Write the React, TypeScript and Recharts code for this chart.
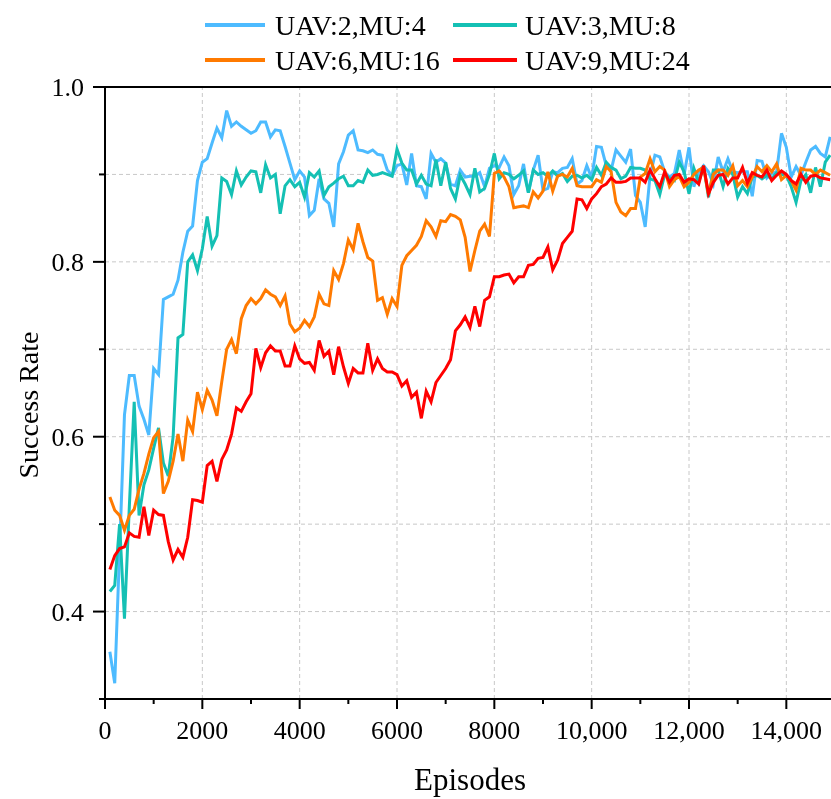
import React from 'react';
import { LineChart, Line, XAxis, YAxis, CartesianGrid, ReferenceLine, Legend, Label } from 'recharts';

// Episodes: one point every 100 episodes
const episodes: number[] = Array.from({ length: 149 }, (_, i) => (i + 1) * 100);

const uav2mu4: number[] = [
  0.354, 0.318, 0.47, 0.625, 0.67, 0.67, 0.635, 0.62, 0.602, 0.678,
  0.671, 0.757, 0.76, 0.763, 0.779, 0.811, 0.835, 0.841, 0.893, 0.914,
  0.918, 0.936, 0.953, 0.942, 0.973, 0.955, 0.96, 0.955, 0.951, 0.947,
  0.95, 0.96, 0.96, 0.943, 0.951, 0.95, 0.932, 0.913, 0.894, 0.904,
  0.897, 0.853, 0.859, 0.895, 0.872, 0.867, 0.84, 0.912, 0.926, 0.945,
  0.95, 0.928, 0.927, 0.925, 0.928, 0.923, 0.922, 0.905, 0.899, 0.91,
  0.912, 0.888, 0.924, 0.887, 0.886, 0.872, 0.924, 0.914, 0.918, 0.913,
  0.889, 0.887, 0.905, 0.897, 0.898, 0.898, 0.902, 0.886, 0.907, 0.91,
  0.908, 0.92, 0.91, 0.877, 0.887, 0.912, 0.879, 0.905, 0.922, 0.882,
  0.884, 0.903, 0.902, 0.907, 0.908, 0.918, 0.889, 0.893, 0.91, 0.896,
  0.932, 0.931, 0.91, 0.905, 0.928, 0.921, 0.914, 0.929, 0.876, 0.868,
  0.84, 0.899, 0.922, 0.92, 0.903, 0.897, 0.901, 0.928, 0.9, 0.931,
  0.886, 0.903, 0.91, 0.903, 0.889, 0.92, 0.903, 0.918, 0.903, 0.902,
  0.903, 0.903, 0.875, 0.916, 0.915, 0.896, 0.901, 0.903, 0.947, 0.931,
  0.897, 0.909, 0.899, 0.914, 0.928, 0.932, 0.924, 0.92, 0.943,
];

const uav3mu8: number[] = [
  0.423, 0.43, 0.5, 0.392, 0.52, 0.64, 0.51, 0.545, 0.562, 0.587,
  0.61, 0.57, 0.555, 0.6, 0.713, 0.717, 0.8, 0.808, 0.79, 0.815,
  0.852, 0.818, 0.83, 0.896, 0.892, 0.877, 0.904, 0.888, 0.897, 0.904,
  0.903, 0.879, 0.911, 0.896, 0.9, 0.855, 0.887, 0.894, 0.886, 0.891,
  0.874, 0.902, 0.897, 0.904, 0.876, 0.886, 0.89, 0.895, 0.898, 0.887,
  0.887, 0.893, 0.891, 0.905, 0.899, 0.9, 0.902, 0.9, 0.898, 0.929,
  0.913, 0.905, 0.905, 0.889, 0.899, 0.889, 0.887, 0.917, 0.887, 0.914,
  0.884, 0.872, 0.899, 0.889, 0.877, 0.907, 0.88, 0.884, 0.9, 0.924,
  0.895, 0.902, 0.9, 0.895, 0.899, 0.904, 0.879, 0.905, 0.9, 0.902,
  0.898, 0.904, 0.898, 0.901, 0.892, 0.898, 0.899, 0.896, 0.899, 0.894,
  0.908, 0.899, 0.914, 0.908, 0.905, 0.895, 0.898, 0.908, 0.907, 0.907,
  0.905, 0.895, 0.893, 0.877, 0.9, 0.896, 0.893, 0.914, 0.903, 0.878,
  0.907, 0.891, 0.91, 0.874, 0.905, 0.905, 0.886, 0.907, 0.9, 0.874,
  0.886, 0.878, 0.897, 0.899, 0.895, 0.899, 0.895, 0.902, 0.9, 0.899,
  0.886, 0.868, 0.893, 0.9, 0.879, 0.908, 0.886, 0.914, 0.922,
];

const uav6mu16: number[] = [
  0.531, 0.516, 0.51, 0.493, 0.51, 0.517, 0.54, 0.558, 0.58, 0.599,
  0.606, 0.535, 0.549, 0.572, 0.603, 0.572, 0.619, 0.606, 0.651, 0.631,
  0.653, 0.642, 0.624, 0.663, 0.7, 0.711, 0.695, 0.735, 0.75, 0.758,
  0.752, 0.758, 0.768, 0.763, 0.76, 0.75, 0.761, 0.729, 0.72, 0.724,
  0.733, 0.726, 0.737, 0.763, 0.752, 0.75, 0.79, 0.78, 0.798, 0.825,
  0.814, 0.844, 0.823, 0.805, 0.801, 0.756, 0.759, 0.74, 0.758, 0.749,
  0.796, 0.807, 0.813, 0.819, 0.829, 0.847, 0.84, 0.829, 0.847, 0.846,
  0.854, 0.852, 0.848, 0.828, 0.789, 0.813, 0.835, 0.843, 0.829, 0.901,
  0.904, 0.897, 0.886, 0.862, 0.863, 0.864, 0.862, 0.88, 0.873, 0.881,
  0.903, 0.881, 0.898, 0.9, 0.897, 0.907, 0.887, 0.886, 0.886, 0.886,
  0.894, 0.891, 0.909, 0.903, 0.868, 0.857, 0.853, 0.861, 0.861, 0.897,
  0.901, 0.918, 0.903, 0.909, 0.905, 0.886, 0.894, 0.898, 0.886, 0.891,
  0.9, 0.905, 0.908, 0.877, 0.9, 0.905, 0.905, 0.899, 0.91, 0.887,
  0.893, 0.886, 0.897, 0.909, 0.903, 0.91, 0.903, 0.912, 0.894, 0.899,
  0.893, 0.882, 0.907, 0.905, 0.905, 0.9, 0.905, 0.902, 0.899,
];

const uav9mu24: number[] = [
  0.448, 0.464, 0.472, 0.474, 0.49, 0.486, 0.485, 0.52, 0.487, 0.516,
  0.511, 0.51, 0.48, 0.459, 0.471, 0.462, 0.485, 0.528, 0.527, 0.525,
  0.567, 0.572, 0.549, 0.574, 0.585, 0.603, 0.633, 0.629, 0.64, 0.649,
  0.701, 0.679, 0.696, 0.704, 0.698, 0.698, 0.681, 0.681, 0.704, 0.689,
  0.684, 0.685, 0.676, 0.71, 0.692, 0.698, 0.671, 0.703, 0.68, 0.661,
  0.678, 0.673, 0.673, 0.707, 0.676, 0.689, 0.678, 0.674, 0.674, 0.671,
  0.658, 0.664, 0.645, 0.651, 0.621, 0.652, 0.64, 0.662, 0.67, 0.678,
  0.688, 0.721, 0.728, 0.737, 0.725, 0.749, 0.726, 0.756, 0.76, 0.783,
  0.783, 0.785, 0.786, 0.776, 0.783, 0.783, 0.796, 0.797, 0.804, 0.805,
  0.817, 0.791, 0.802, 0.821, 0.828, 0.835, 0.872, 0.871, 0.861, 0.872,
  0.878, 0.886, 0.889, 0.896, 0.891, 0.891, 0.892, 0.896, 0.896, 0.896,
  0.891, 0.905, 0.895, 0.886, 0.903, 0.891, 0.899, 0.9, 0.891, 0.895,
  0.894, 0.889, 0.91, 0.878, 0.891, 0.899, 0.9, 0.889, 0.896, 0.896,
  0.908, 0.89, 0.902, 0.899, 0.897, 0.905, 0.893, 0.899, 0.904, 0.9,
  0.893, 0.889, 0.9, 0.891, 0.898, 0.899, 0.896, 0.895, 0.894,
];

const seriesKeys = ['s0', 's1', 's2', 's3'];
const seriesNames = ['UAV:2,MU:4', 'UAV:3,MU:8', 'UAV:6,MU:16', 'UAV:9,MU:24'];
const seriesColors = ['#4DBBFF', '#14C0B4', '#FF7A00', '#FF0000'];

const xTicks = [0, 1000, 2000, 3000, 4000, 5000, 6000, 7000, 8000, 9000, 10000, 11000, 12000, 13000, 14000, 15000];
const xGridValues = [2000, 4000, 6000, 8000, 10000, 12000, 14000];
const yTicks = [0.3, 0.4, 0.5, 0.6, 0.7, 0.8, 0.9, 1.0];
const yLabelled = ['0.4', '0.6', '0.8', '1.0'];

const data = episodes.map((ep, i) => ({
  episode: ep,
  s0: uav2mu4[i],
  s1: uav3mu8[i],
  s2: uav6mu16[i],
  s3: uav9mu24[i],
}));

const FONT = '"Liberation Serif", "Times New Roman", serif';

const fmtX = (v: number) => (v >= 10000 ? v.toLocaleString('en-US') : String(v));

const XTick = (props: any) => {
  const { x, y, payload } = props;
  const v = payload.value as number;
  const major = v % 2000 === 0;
  return (
    <g>
      <line x1={x} x2={x} y1={y} y2={y + (major ? 10 : 5)} stroke="#000" strokeWidth={2} />
      {major && (
        <text x={x} y={y + 39.5} textAnchor="middle" fontSize={26} fontFamily={FONT} fill="#000">
          {fmtX(v)}
        </text>
      )}
    </g>
  );
};

const YTick = (props: any) => {
  const { x, y, payload } = props;
  const label = (payload.value as number).toFixed(1);
  const major = yLabelled.includes(label);
  return (
    <g>
      <line x1={x} x2={x - (major ? 12 : 6)} y1={y} y2={y} stroke="#000" strokeWidth={2} />
      {major && (
        <text x={x - 21} y={y + 9} textAnchor="end" fontSize={26} fontFamily={FONT} fill="#000">
          {label}
        </text>
      )}
    </g>
  );
};

const XLabel = (props: any) => {
  const vb = props.viewBox;
  return (
    <text x={vb.x + vb.width / 2} y={vb.y + 91} textAnchor="middle" fontSize={31} fontFamily={FONT} fill="#000">
      Episodes
    </text>
  );
};

const YLabel = (props: any) => {
  const vb = props.viewBox;
  const cx = 30;
  const cy = vb.y + vb.height / 2 + 12;
  return (
    <text
      x={cx}
      y={cy}
      transform={`rotate(-90, ${cx}, ${cy})`}
      textAnchor="middle"
      fontSize={28}
      fontFamily={FONT}
      fill="#000"
    >
      Success Rate
    </text>
  );
};

const legendItems = [
  { lx1: 197, lx2: 257, tx: 267, y: 17 },
  { lx1: 445, lx2: 509, tx: 517, y: 17 },
  { lx1: 197, lx2: 257, tx: 267, y: 52 },
  { lx1: 445, lx2: 509, tx: 517, y: 52 },
];

const LegendContent = () => (
  <svg width={827} height={70} style={{ display: 'block' }}>
    {seriesNames.map((name, i) => {
      const it = legendItems[i];
      return (
        <g key={name}>
          <line x1={it.lx1} x2={it.lx2} y1={it.y} y2={it.y} stroke={seriesColors[i]} strokeWidth={4} />
          <text x={it.tx} y={it.y + 9.5} fontSize={28} fontFamily={FONT} fill="#000">
            {name}
          </text>
        </g>
      );
    })}
  </svg>
);

export default function App() {
  return (
    <div style={{ position: 'fixed', top: 8, left: 8, width: 823, height: 791, overflow: 'hidden' }}>
      <LineChart
        width={827}
        height={791}
        data={data}
        margin={{ top: 9, right: 0, bottom: 0, left: 0 }}
        style={{ fontFamily: FONT }}
      >
        <Legend
          verticalAlign="top"
          height={70}
          wrapperStyle={{ top: 0, left: 0, width: 827, height: 70 }}
          content={() => <LegendContent />}
        />
        <CartesianGrid vertical={false} stroke="#c8c8c8" strokeDasharray="4 3" />
        {xGridValues.map((v) => (
          <ReferenceLine key={v} x={v} stroke="#c8c8c8" strokeDasharray="4 3" />
        ))}
        <XAxis
          type="number"
          dataKey="episode"
          domain={[0, 15000]}
          ticks={xTicks}
          interval={0}
          allowDataOverflow
          height={100}
          tickSize={0}
          tickMargin={0}
          tickLine={false}
          tick={<XTick />}
          axisLine={{ stroke: '#000', strokeWidth: 2 }}
        >
          <Label content={<XLabel />} />
        </XAxis>
        <YAxis
          type="number"
          domain={[0.3, 1.0]}
          ticks={yTicks}
          interval={0}
          allowDataOverflow
          width={97}
          tickSize={0}
          tickMargin={0}
          tickLine={false}
          tick={<YTick />}
          axisLine={{ stroke: '#000', strokeWidth: 2 }}
        >
          <Label content={<YLabel />} />
        </YAxis>
        {seriesKeys.map((k, i) => (
          <Line
            key={k}
            type="linear"
            dataKey={k}
            name={seriesNames[i]}
            stroke={seriesColors[i]}
            strokeWidth={3}
            dot={false}
            activeDot={false}
            isAnimationActive={false}
          />
        ))}
        <ReferenceLine y={1.0} stroke="#000" strokeWidth={2} />
      </LineChart>
    </div>
  );
}
